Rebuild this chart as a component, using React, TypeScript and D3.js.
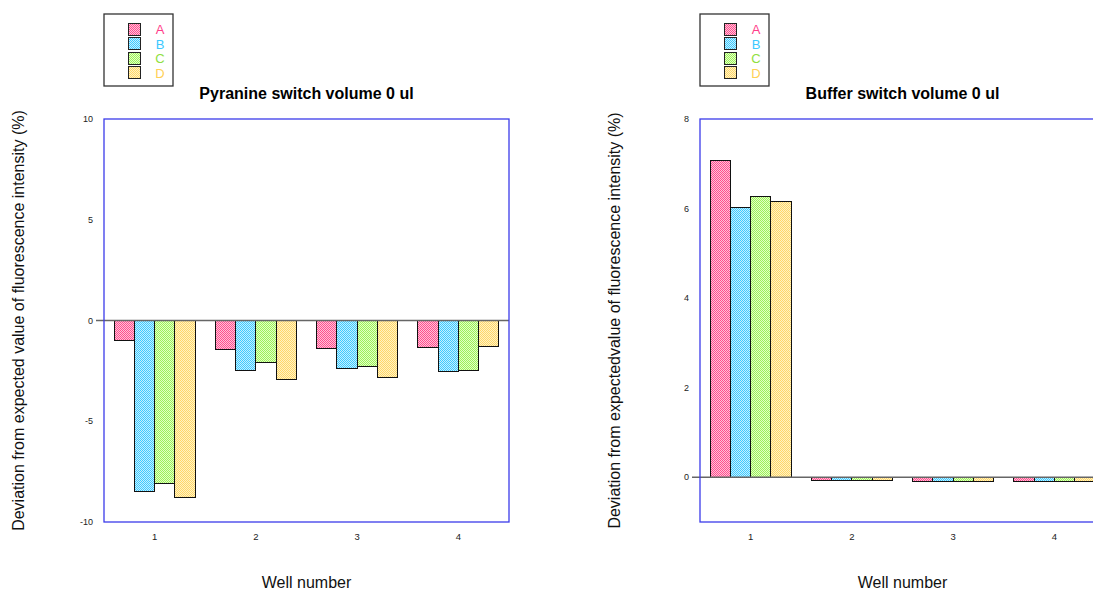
import React from 'react';
import * as d3 from 'd3';

// chart data
const wells = ['1', '2', '3', '4'];
const seriesNames = ['A', 'B', 'C', 'D'];
const pyranineA = [-1.0, -1.45, -1.4, -1.35];
const pyranineB = [-8.5, -2.5, -2.4, -2.55];
const pyranineC = [-8.1, -2.1, -2.3, -2.5];
const pyranineD = [-8.8, -2.95, -2.85, -1.3];
const bufferA = [7.08, -0.07, -0.1, -0.1];
const bufferB = [6.03, -0.07, -0.1, -0.1];
const bufferC = [6.28, -0.07, -0.1, -0.1];
const bufferD = [6.15, -0.07, -0.1, -0.1];
const pyranineTicks = [-10, -5, 0, 5, 10];
const bufferTicks = [0, 2, 4, 6, 8];

// pattern colours: [light, dark], legend text colour
const patternColors = [
  ['#ffc2d8', '#ff4f8f'],
  ['#c4f0ff', '#3fcaff'],
  ['#e2ffc4', '#9cf05a'],
  ['#fff3c4', '#ffd66a'],
];
const textColors = ['#ff3d8a', '#3cc8ff', '#8fe040', '#ffd055'];

const font = '"Liberation Sans", Arial, sans-serif';

type PanelProps = {
  x0: number;
  title: string;
  yLabel: string;
  series: number[][];
  domain: [number, number];
  ticks: number[];
};

const Panel = ({ x0, title, yLabel, series, domain, ticks }: PanelProps) => {
  const left = x0;
  const right = x0 + 405;
  const top = 119;
  const bottom = 522;

  const x = d3.scaleBand().domain(wells).range([left, right]).paddingInner(0.2).paddingOuter(0.1);
  const xInner = d3.scaleBand().domain(seriesNames).range([0, x.bandwidth()]);
  const y = d3.scaleLinear().domain(domain).range([bottom, top]);
  const cx = (left + right) / 2;

  return (
    <g>
      {/* legend */}
      <rect x={left} y={14} width={69} height={72} fill="#fff" stroke="#333" strokeWidth={1.3} />
      {seriesNames.map((s, i) => (
        <g key={s}>
          <rect x={left + 24} y={23 + i * 14.5} width={12} height={12} fill={`url(#pat${i})`} stroke="#222" strokeWidth={1} shapeRendering="crispEdges" />
          <text x={left + 56} y={34 + i * 14.5} fontSize={13} fill={textColors[i]} textAnchor="middle" fontFamily={font}>{s}</text>
        </g>
      ))}

      <text x={cx} y={99} textAnchor="middle" fontSize={16} fontWeight="bold" fontFamily={font}>{title}</text>

      {/* bars */}
      {series.map((vals, si) =>
        vals.map((v, wi) => {
          const bx = (x(wells[wi]) as number) + (xInner(seriesNames[si]) as number);
          const y1 = y(Math.max(0, v));
          const y2 = y(Math.min(0, v));
          return (
            <rect key={`${si}-${wi}`} x={bx} y={y1} width={xInner.bandwidth()} height={Math.max(1, y2 - y1)}
              fill={`url(#pat${si})`} stroke="#111" strokeWidth={1} shapeRendering="crispEdges" />
          );
        })
      )}

      {/* zero line */}
      <line x1={left - 8} x2={right} y1={y(0)} y2={y(0)} stroke="#666" strokeWidth={1.5} />

      {/* frame */}
      <rect x={left} y={top} width={right - left} height={bottom - top} fill="none" stroke="#3b3bea" strokeWidth={1.3} />

      {ticks.map((t) => (
        <text key={t} x={left - 11} y={y(t) + 3} textAnchor="end" fontSize={9} fill="#222" fontFamily={font}>{t}</text>
      ))}
      {wells.map((w) => (
        <text key={w} x={(x(w) as number) + x.bandwidth() / 2} y={540} textAnchor="middle" fontSize={9.5} fill="#222" fontFamily={font}>{w}</text>
      ))}

      <text x={cx} y={588} textAnchor="middle" fontSize={16} fill="#111" fontFamily={font}>Well number</text>
      <text transform={`translate(${x0 - 80},${(top + bottom) / 2}) rotate(-90)`} textAnchor="middle" fontSize={16} fill="#111" fontFamily={font}>{yLabel}</text>
    </g>
  );
};

const App = () => {
  return (
    <svg width={1093} height={590} style={{ position: 'fixed', left: 0, top: 0, background: '#fff' }}>
      <defs>
        {patternColors.map(([light, dark], i) => (
          <pattern key={i} id={`pat${i}`} width={2} height={2} patternUnits="userSpaceOnUse">
            <rect width={2} height={2} fill={light} />
            <rect x={0} y={0} width={1} height={1} fill={dark} />
            <rect x={1} y={1} width={1} height={1} fill={dark} />
          </pattern>
        ))}
      </defs>
      <Panel
        x0={104}
        title="Pyranine switch volume 0 ul"
        yLabel="Deviation from expected value of fluorescence intensity (%)"
        series={[pyranineA, pyranineB, pyranineC, pyranineD]}
        domain={[-10, 10]}
        ticks={pyranineTicks}
      />
      <Panel
        x0={700}
        title="Buffer switch volume 0 ul"
        yLabel="Deviation from expectedvalue of fluorescence intensity (%)"
        series={[bufferA, bufferB, bufferC, bufferD]}
        domain={[-1, 8]}
        ticks={bufferTicks}
      />
    </svg>
  );
};

export default App;
